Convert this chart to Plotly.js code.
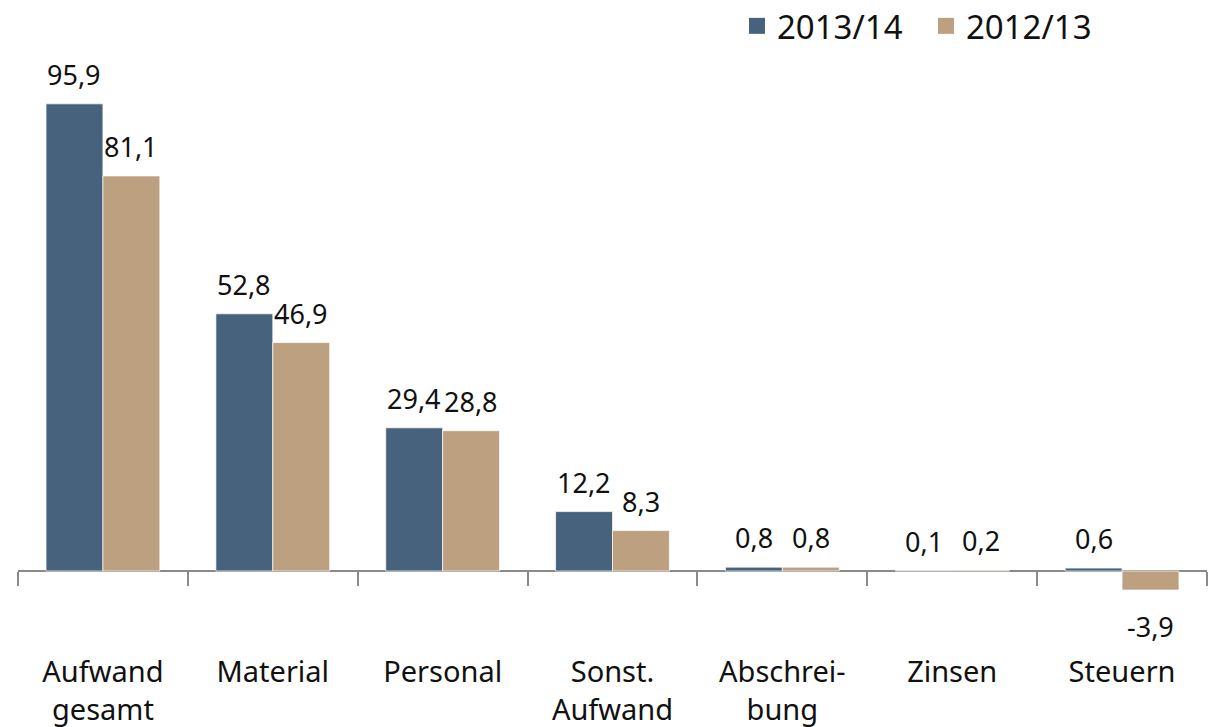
<!DOCTYPE html>
<html><head><meta charset="utf-8">
<script src="https://cdn.plot.ly/plotly-3.0.1.min.js"></script>
<style>html,body{margin:0;padding:0;background:#fff}</style>
</head><body>
<div id="chart" style="width:1218px;height:727px"></div>
<script>
const categories = ["Aufwand<br>gesamt","Material","Personal","Sonst.<br>Aufwand","Abschrei-<br>bung","Zinsen","Steuern"];
const seriesNames = ["2013/14","2012/13"];
const values2013_14 = [95.9, 52.8, 29.4, 12.2, 0.8, 0.1, 0.6];
const values2012_13 = [81.1, 46.9, 28.8, 8.3, 0.8, 0.2, -3.9];
const colors = ["#46627C","#BDA07F"];

const yRange = [-8.0, 104.9];
const font = "'Noto Sans', 'Open Sans', sans-serif";
const W = 1218, H = 727;
const margin = {l: 18, r: 11, t: 60, b: 117, autoexpand: false};
const bargap = 0.33;
const series = [values2013_14, values2012_13];

const mk = (name, vals, color) => ({
  type: 'bar', name: name, x: categories, y: vals, showlegend: false,
  marker: {color: color, line: {color: 'rgba(255,255,255,0.7)', width: 1}},
  hoverinfo: 'x+y'
});
const legendItem = (name, color) => ({
  type: 'scatter', mode: 'markers', name: name, x: [null], y: [null],
  marker: {symbol: 'square', size: 21, color: color, line: {width: 0}},
  showlegend: true, hoverinfo: 'skip'
});

const data = [
  mk(seriesNames[0], values2013_14, colors[0]),
  mk(seriesNames[1], values2012_13, colors[1]),
  legendItem(seriesNames[0], colors[0]),
  legendItem(seriesNames[1], colors[1])
];

// value labels: placed at each bar's value, shifted sideways to the bar's slot in its group
const plotW = W - margin.l - margin.r;
const barPx = plotW / categories.length * (1 - bargap) / series.length;
const annotations = [];
series.forEach((vals, si) => {
  vals.forEach((v, ci) => {
    annotations.push({
      xref: 'x', yref: 'y', x: categories[ci], y: v,
      xshift: (si - (series.length - 1) / 2) * barPx,
      yshift: v >= 0 ? 9 : -16,
      yanchor: v >= 0 ? 'bottom' : 'top', xanchor: 'center',
      text: v.toFixed(1).replace('.', ','), showarrow: false,
      font: {family: font, size: 27, color: '#111'}
    });
  });
});

const layout = {
  width: W, height: H, margin: margin,
  barmode: 'group', bargap: bargap, bargroupgap: 0,
  paper_bgcolor: '#fff', plot_bgcolor: '#fff',
  font: {family: font, color: '#111'},
  showlegend: true,
  legend: {orientation: 'h', x: 0.9226, xanchor: 'right', y: 1.062, yanchor: 'middle',
           font: {family: font, size: 33, color: '#111'}, itemwidth: 30, itemsizing: 'trace',
           entrywidth: 144, entrywidthmode: 'pixels',
           tracegroupgap: 0, bgcolor: 'rgba(0,0,0,0)'},
  annotations: annotations,
  xaxis: {
    type: 'category', anchor: 'free', position: -yRange[0] / (yRange[1] - yRange[0]),
    showline: true, linecolor: '#8a8a8a', linewidth: 2, layer: 'below traces',
    ticks: 'outside', tickson: 'boundaries', ticklen: 14, tickwidth: 2, tickcolor: '#8a8a8a',
    ticklabelstandoff: 75,
    tickfont: {family: font, size: 29, color: '#111'},
    showgrid: false, zeroline: false, fixedrange: true
  },
  yaxis: {
    range: yRange, showticklabels: false, showgrid: false, zeroline: false,
    showline: false, ticks: '', fixedrange: true
  }
};

Plotly.newPlot('chart', data, layout, {displayModeBar: false, staticPlot: true});
</script>
</body></html>
